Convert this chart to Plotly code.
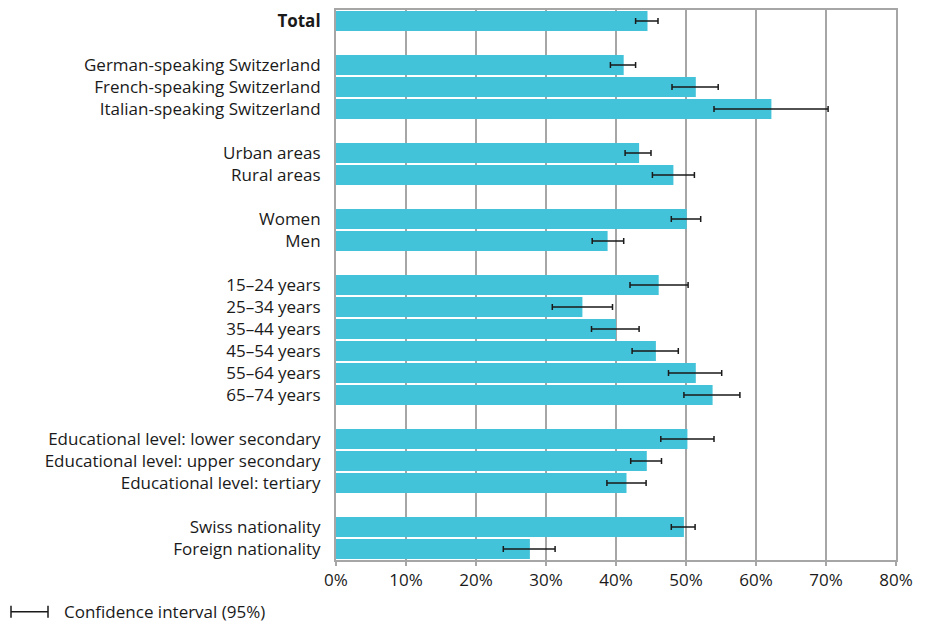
import plotly.graph_objects as go

# Survey shares by population group (percent), with 95% confidence bounds
groups = [
    ["Total"],
    ["German-speaking Switzerland", "French-speaking Switzerland", "Italian-speaking Switzerland"],
    ["Urban areas", "Rural areas"],
    ["Women", "Men"],
    ["15–24 years", "25–34 years", "35–44 years", "45–54 years", "55–64 years", "65–74 years"],
    ["Educational level: lower secondary", "Educational level: upper secondary", "Educational level: tertiary"],
    ["Swiss nationality", "Foreign nationality"],
]
values = [44.5,
          41.1, 51.4, 62.2,
          43.3, 48.2,
          50.1, 38.8,
          46.1, 35.2, 40.0, 45.7, 51.4, 53.8,
          50.2, 44.4, 41.5,
          49.7, 27.7]
ci_low = [42.8,
          39.2, 48.0, 54.0,
          41.3, 45.2,
          47.9, 36.6,
          42.0, 30.9, 36.5, 42.3, 47.5, 49.7,
          46.4, 42.1, 38.7,
          47.9, 23.9]
ci_high = [46.0,
           42.8, 54.6, 70.3,
           45.0, 51.2,
           52.1, 41.1,
           50.3, 39.5, 43.3, 48.9, 55.1, 57.7,
           54.0, 46.5, 44.3,
           51.3, 31.3]
x_ticks = [0, 10, 20, 30, 40, 50, 60, 70, 80]
x_tick_text = ["0%", "10%", "20%", "30%", "40%", "50%", "60%", "70%", "80%"]
legend_text = "Confidence interval (95%)"

# Row positions: one empty slot between groups
labels, positions = [], []
pos = 0
for gi, grp in enumerate(groups):
    if gi > 0:
        pos += 1
    for lab in grp:
        labels.append(lab)
        positions.append(pos)
        pos += 1
n_slots = pos

tick_text = ["<b>%s</b>" % l if l == "Total" else l for l in labels]
err_plus = [h - v for h, v in zip(ci_high, values)]
err_minus = [v - l for v, l in zip(values, ci_low)]

BAR = "#43C3D9"
GRID = "#A6A6A6"
FONT = "Open Sans"
FS = 17

fig = go.Figure()
fig.add_trace(go.Bar(
    x=values, y=positions, orientation="h",
    marker=dict(color=BAR, line=dict(width=0)),
    width=0.9,
    error_x=dict(type="data", symmetric=False, array=err_plus, arrayminus=err_minus,
                 color="#1a1a1a", thickness=1.5, width=3),
    hoverinfo="x+y", showlegend=False,
))

fig.update_layout(
    width=930, height=624,
    margin=dict(l=336, r=34, t=8, b=64),
    paper_bgcolor="white", plot_bgcolor="white",
    font=dict(family=FONT, size=FS, color="#1a1a1a"),
    xaxis=dict(range=[0, 80], tickvals=x_ticks, ticktext=x_tick_text,
               showgrid=True, gridcolor=GRID, gridwidth=1.6,
               showline=True, linecolor=GRID, linewidth=2, mirror=True,
               ticks="outside", ticklen=4, tickcolor=GRID, tickwidth=1.5,
               zeroline=False, fixedrange=True, tickfont=dict(size=FS)),
    yaxis=dict(range=[n_slots - 0.5, -0.5], tickvals=positions, ticktext=tick_text,
               showgrid=False, showline=True, linecolor=GRID, linewidth=2, mirror=True,
               ticks="", ticklabelstandoff=10, zeroline=False, fixedrange=True,
               tickfont=dict(size=FS)),
    bargap=0.1,
)

# Legend key for the confidence interval whiskers (paper coords relative to plot area)
PW, PH, L = 560, 552, 336
def px(x):
    return (x - L) / PW
def py(dy):
    return -dy / PH

fig.add_shape(type="line", xref="paper", yref="paper", x0=px(11), x1=px(48),
              y0=py(52), y1=py(52), line=dict(color="#1a1a1a", width=1.5))
for xk in (11, 48):
    fig.add_shape(type="line", xref="paper", yref="paper", x0=px(xk), x1=px(xk),
                  y0=py(46), y1=py(58), line=dict(color="#1a1a1a", width=1.5))
fig.add_annotation(text=legend_text, xref="paper", yref="paper",
                   x=px(62), y=py(52), xanchor="left", yanchor="middle",
                   showarrow=False, font=dict(size=FS, family=FONT, color="#1a1a1a"))

fig.write_html("out.html")
